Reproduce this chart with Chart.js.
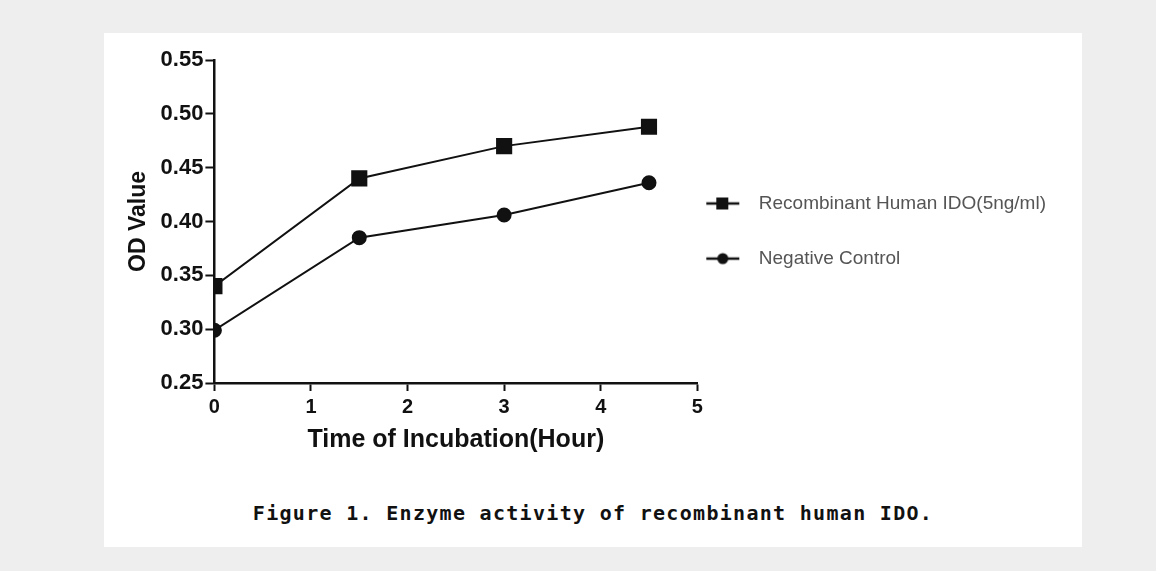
<!DOCTYPE html>
<html>
<head>
<meta charset="utf-8">
<script src="https://cdn.jsdelivr.net/npm/chart.js@4.4.0/dist/chart.umd.min.js"></script>
<style>
  body { margin: 0; background: #eeeeee; width: 1156px; height: 571px; overflow: hidden; }
  #panel { position: absolute; left: 104px; top: 33px; width: 978px; height: 514px; background: #ffffff; }
  #chartBox { position: absolute; left: 0; top: 0; width: 978px; height: 430px; }
  #caption { position: absolute; left: 0; top: 468px; width: 978px; text-align: center;
             font: bold 20px "DejaVu Sans Mono"; letter-spacing: 1.3px; line-height: 24px; color: #111; }
</style>
</head>
<body>
<div id="panel">
  <div id="chartBox"><canvas id="odChart" width="978" height="430"></canvas></div>
  <div id="caption">Figure 1. Enzyme activity of recombinant human IDO.</div>
</div>
<script>
// data
const hours = [0, 1.5, 3, 4.5];
const recombinant = [0.340, 0.440, 0.470, 0.488];
const negative = [0.299, 0.385, 0.406, 0.436];
const seriesNames = ['Recombinant Human IDO(5ng/ml)', 'Negative Control'];
const xTicks = [0, 1, 2, 3, 4, 5];
const yTicks = [0.25, 0.30, 0.35, 0.40, 0.45, 0.50, 0.55];

const ink = '#111';

// little line + marker icons for the legend
function legendIcon(shape) {
  const c = document.createElement('canvas');
  c.width = 44; c.height = 16;
  const g = c.getContext('2d');
  g.strokeStyle = ink; g.lineWidth = 2.5;
  g.beginPath(); g.moveTo(1, 8); g.lineTo(34, 8); g.stroke();
  g.fillStyle = ink;
  if (shape === 'rect') {
    g.fillRect(11, 2, 12, 12);
  } else {
    g.beginPath(); g.arc(17.5, 8, 5.5, 0, Math.PI * 2); g.fill();
  }
  return c;
}
const icons = [legendIcon('rect'), legendIcon('circle')];

const toPoints = vals => hours.map((h, i) => ({ x: h, y: vals[i] }));

let ctx = document.getElementById('odChart').getContext('2d');
let odChart = new Chart(ctx, {
  type: 'line',
  data: {
    datasets: [{
      label: seriesNames[0],
      data: toPoints(recombinant),
      borderColor: ink,
      backgroundColor: ink,
      borderWidth: 2,
      pointStyle: 'rect',
      pointRadius: 10,
      tension: 0
    }, {
      label: seriesNames[1],
      data: toPoints(negative),
      borderColor: ink,
      backgroundColor: ink,
      borderWidth: 2,
      pointStyle: 'circle',
      pointRadius: 6.5,
      tension: 0
    }]
  },
  options: {
    responsive: false,
    animation: false,
    layout: {
      padding: { left: 21, top: 27, right: 26, bottom: 8 }
    },
    plugins: {
      tooltip: { enabled: false },
      legend: {
        display: true,
        position: 'right',
        align: 'start',
        maxWidth: 420,
        // empty title only used as top spacing
        title: { display: true, text: '', padding: { top: 114, bottom: 0 }, font: { size: 12, lineHeight: 1 } },
        labels: {
          usePointStyle: true,
          pointStyleWidth: 44,
          padding: 8,
          color: '#555',
          font: { family: '"Liberation Sans", Arial', size: 19, lineHeight: 2.48 },
          generateLabels: chart => chart.data.datasets.map((ds, i) => ({
            text: [ds.label],
            pointStyle: icons[i],
            datasetIndex: i,
            fontColor: '#555',
            lineWidth: 0,
            strokeStyle: 'rgba(0,0,0,0)',
            fillStyle: 'rgba(0,0,0,0)'
          }))
        }
      }
    },
    scales: {
      x: {
        type: 'linear',
        min: 0,
        max: 5,
        afterBuildTicks: axis => { axis.ticks = xTicks.map(v => ({ value: v })); },
        ticks: {
          color: ink,
          padding: 4,
          font: { family: '"Liberation Sans", Arial', weight: 'bold', size: 20 }
        },
        grid: { display: true, drawOnChartArea: false, drawTicks: true, tickLength: 8, tickColor: ink, tickWidth: 2 },
        border: { display: true, color: ink, width: 2.5 },
        title: {
          display: true,
          text: 'Time of Incubation(Hour)',
          color: ink,
          padding: { top: 2, bottom: 0 },
          font: { family: '"Liberation Sans", Arial', weight: 'bold', size: 25 }
        }
      },
      y: {
        type: 'linear',
        min: 0.25,
        max: 0.55,
        afterBuildTicks: axis => { axis.ticks = yTicks.map(v => ({ value: v })); },
        ticks: {
          color: ink,
          padding: 2,
          callback: v => v.toFixed(2),
          font: { family: '"Liberation Sans", Arial', weight: 'bold', size: 22 }
        },
        grid: { display: true, drawOnChartArea: false, drawTicks: true, tickLength: 9, tickColor: ink, tickWidth: 2 },
        border: { display: true, color: ink, width: 2.5 },
        title: {
          display: true,
          text: 'OD Value',
          color: ink,
          padding: { top: 0, bottom: 6 },
          font: { family: '"Liberation Sans", Arial', weight: 'bold', size: 23 }
        }
      }
    }
  }
});
</script>
</body>
</html>
